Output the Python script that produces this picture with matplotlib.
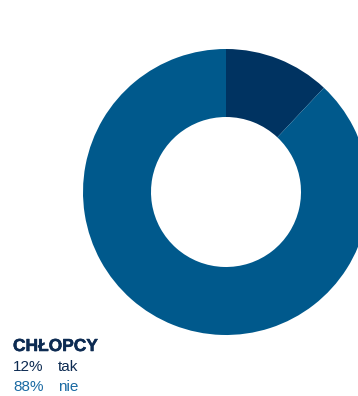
import matplotlib
matplotlib.use("Agg")
import matplotlib.pyplot as plt
import matplotlib.patheffects as pe

labels = ['tak', 'nie']
values = [12, 88]
colors = ['#003361', '#00598c']
text_colors = ['#0d2b52', '#1a6aa3']
title = 'CHŁOPCY'

W, H = 358, 396
fig = plt.figure(figsize=(W / 100, H / 100), dpi=100)

# donut: centre (226, 192) px, outer radius 143 px
cx, cy, R = 226, 192, 143
ax = fig.add_axes([(cx - R) / W, (H - cy - R) / H, 2 * R / W, 2 * R / H])
ax.pie(values, colors=colors, startangle=90, counterclock=False,
       wedgeprops=dict(width=68 / 143, linewidth=0))
ax.set_xlim(-1, 1)
ax.set_ylim(-1, 1)
ax.set_aspect('equal')
ax.axis('off')

plt.rcParams['font.family'] = ['Liberation Sans', 'DejaVu Sans']
# title is a very heavy face in the original, thicken a little with a stroke
fig.text(13 / W, 1 - 351 / H, title, fontsize=12.5, fontweight='bold',
         color='#0d2b52', va='baseline',
         path_effects=[pe.withStroke(linewidth=0.4, foreground='#0d2b52')])
for i in range(len(labels)):
    y = 1 - (371 + i * 20) / H
    fig.text(13 / W, y, f'{values[i]}%', fontsize=11, color=text_colors[i], va='baseline')
    fig.text(58 / W, y, labels[i], fontsize=11, color=text_colors[i], va='baseline')

fig.savefig('out.png', dpi=100)
